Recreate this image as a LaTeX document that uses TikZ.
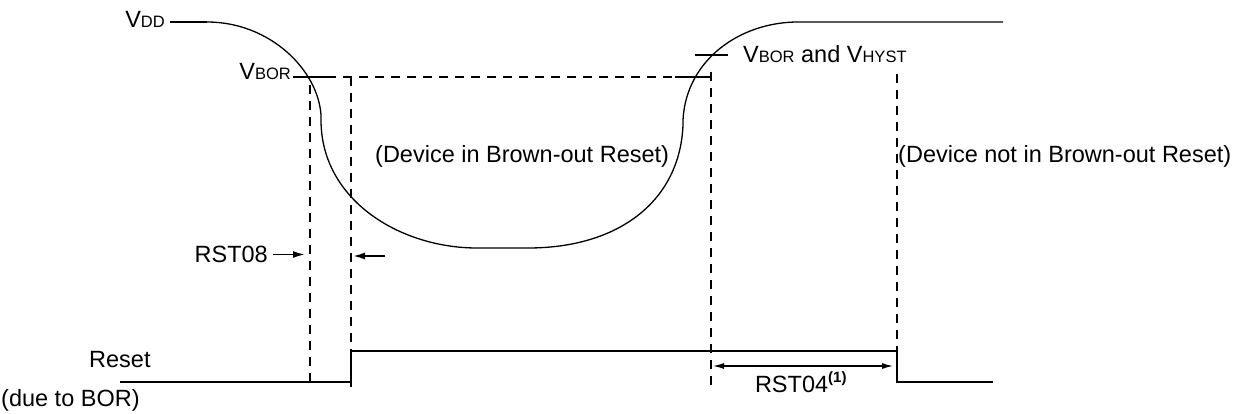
\documentclass[tikz,border=0pt]{standalone}
\usepackage{fontspec}
\setmainfont{Liberation Sans}
\usetikzlibrary{arrows.meta}
\newcommand{\smc}[1]{{\fontsize{16.5}{18}\selectfont #1}}
\begin{document}
\begin{tikzpicture}[x=1pt,y=-1pt,
  lbl/.style={font=\fontsize{23.5}{26}\selectfont, inner sep=0pt},
  sig/.style={line width=1.3pt},
  rst/.style={line width=2.2pt},
  dsh/.style={line width=2pt, dash pattern=on 9pt off 7pt},
  tck/.style={line width=2.2pt},
  arr/.style={line width=1.8pt, -{Latex[length=12pt,width=7pt]}},
  darr/.style={line width=1.3pt, {Latex[length=11pt,width=6pt]}-{Latex[length=11pt,width=6pt]}},
]
\useasboundingbox (0,0) rectangle (1241,414);

% labels
\node[lbl, anchor=base east] (vdd) at (165,27.5) {V\smc{DD}};
\node[lbl, anchor=base east] (vbor) at (291,80) {V\smc{BOR}};
\node[lbl, anchor=base west] (vhyst) at (743,63) {V\smc{BOR} and V\smc{HYST}};
\node[lbl, anchor=base west] (din) at (375,163) {(Device in Brown-out Reset)};
\node[lbl, anchor=base west] (dnot) at (898,163) {(Device not in Brown-out Reset)};
\node[lbl, anchor=east] (rst08) at (268,254.5) {RST08};
\node[lbl, anchor=base] (rst04) at (801,392) {RST04\textsuperscript{\bfseries\fontsize{15}{16}\selectfont(1)}};
\node[lbl, anchor=base west] (reset) at (89,367) {Reset};
\node[lbl, anchor=base west] (bor) at (1,406) {(due to BOR)};

% VDD curve
\coordinate (vddL) at (170,22);
\coordinate (a) at (207,22);
\coordinate (b) at (321,115);
\coordinate (c) at (321,120);
\coordinate (d) at (477,248);
\coordinate (e) at (528,248);
\coordinate (f) at (683,125);
\coordinate (g) at (683,120);
\coordinate (h) at (798,22);
\coordinate (vddR) at (1003,22);
\draw[tck] (vddL) -- (a);
\draw[sig] (a) .. controls (270,22) and (318,70) .. (b) -- (c)
  .. controls (321,200) and (400,248) .. (d) -- (e)
  .. controls (620,248) and (680,200) .. (f) -- (g)
  .. controls (686,60) and (740,22) .. (h) -- (vddR);

% VBOR threshold
\coordinate (t1) at (293,77);
\coordinate (t2) at (327,77);
\coordinate (t3) at (675,77);
\coordinate (t4) at (710,77);
\draw[tck] (t1) -- (t2);
\draw[dsh] (t2) -- (t3);
\draw[tck] (t3) -- (t4);
\coordinate (h1) at (695,55);
\coordinate (h2) at (728,55);
\draw[tck] (h1) -- (h2);

% vertical dashed lines
\coordinate (v1t) at (310,85);  \coordinate (v1b) at (310,383);
\coordinate (v2t) at (351,77);  \coordinate (v2b) at (351,387);
\coordinate (v3t) at (711,72);  \coordinate (v3b) at (711,390);
\coordinate (v4t) at (897,74);  \coordinate (v4b) at (897,383);
\draw[dsh] (v1t) -- (v1b);
\draw[dsh] (v2t) -- (v2b);
\draw[dsh] (v3t) -- (v3b);
\draw[dsh] (v4t) -- (v4b);

% Reset signal
\coordinate (r0) at (120,382);
\coordinate (r1) at (351,382);
\coordinate (r2) at (351,351);
\coordinate (r3) at (897,351);
\coordinate (r4) at (897,382);
\coordinate (r5) at (993,382);
\draw[rst] (r0) -- (r1) -- (r2) -- (r3) -- (r4) -- (r5);

% RST08 arrows
\coordinate (p1) at (273,254.5);
\coordinate (p2) at (305,254.5);
\coordinate (q1) at (385,256);
\coordinate (q2) at (353,256);
\draw[arr] (p1) -- (p2);
\draw[arr] (q1) -- (q2);

% RST04 arrow
\coordinate (s1) at (713,366);
\coordinate (s2) at (893,366);
\draw[darr] (s1) -- (s2);
\end{tikzpicture}
\end{document}
